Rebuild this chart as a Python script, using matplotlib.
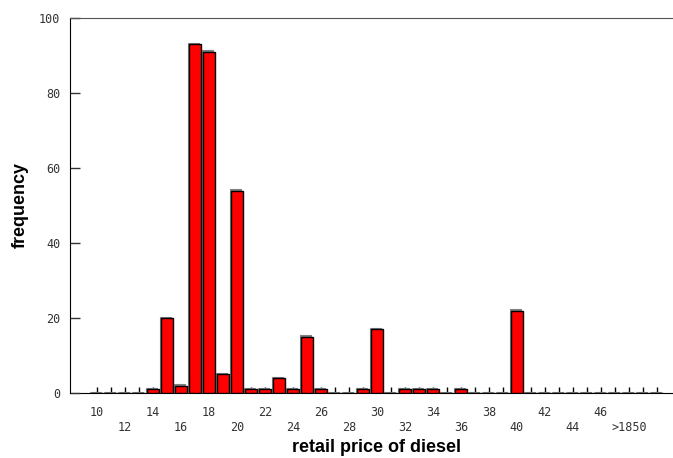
import numpy as np
import matplotlib
matplotlib.use("Agg")
import matplotlib.pyplot as plt

# price bins 10..50, last labelled bin shown as ">1850"
price_bins = list(range(10, 51))
frequency = [0, 0, 0, 0, 1, 20, 2, 93, 91, 5, 54, 1, 1, 4, 1, 15, 1, 0, 0, 1,
             17, 0, 1, 1, 1, 0, 1, 0, 0, 0, 22, 0, 0, 0, 0, 0, 0, 0, 0, 0, 0]
tick_text = ["10", "12", "14", "16", "18", "20", "22", "24", "26", "28", "30",
             "32", "34", "36", "38", "40", "42", "44", "46", ">1850"]

x = np.array(price_bins)
y = np.array(frequency)

fig = plt.figure(figsize=(6.73, 4.58), dpi=100)
ax = fig.add_axes([70 / 673, 1 - 393 / 458, 603 / 673, 375 / 458])

# gray shadow behind each bar, then the red bar
ax.bar(x - 0.09, y + 0.35, width=0.8, color="#808080", edgecolor="#808080",
       linewidth=0.8, zorder=2)
ax.bar(x, y, width=0.8, color="#ff0000", edgecolor="black", linewidth=1.0,
       zorder=3)

ax.set_xlim(10 - 27 / 14, 50 + 16 / 14)
ax.set_ylim(0, 100)

labels = []
for i, p in enumerate(price_bins):
    if i % 2 == 0 and i // 2 < len(tick_text):
        t = tick_text[i // 2]
        labels.append(t if (i // 2) % 2 == 0 else "\n" + t)
    else:
        labels.append("")
ax.set_xticks(x)
ax.set_xticklabels(labels, fontfamily="DejaVu Sans Mono", fontsize=8.5,
                   color="#333333", linespacing=1.25)
ax.tick_params(axis="x", direction="in", length=4, width=1, color="black",
               pad=9)

ax.set_yticks([0, 20, 40, 60, 80, 100])
ax.set_yticklabels(["0", "20", "40", "60", "80", "100"],
                   fontfamily="DejaVu Sans Mono", fontsize=8.5, color="#333333")
ax.tick_params(axis="y", direction="in", length=7.2, width=1, color="#333333",
               pad=7)

ax.spines["right"].set_visible(False)
ax.spines["top"].set_color("#555555")
ax.spines["left"].set_color("black")
ax.spines["bottom"].set_color("black")
ax.spines["bottom"].set_zorder(1)

ax.set_xlabel("retail price of diesel", fontfamily="Liberation Sans",
              fontweight="bold", fontsize=13)
ax.set_ylabel("frequency", fontfamily="Liberation Sans", fontweight="bold",
              fontsize=13)
ax.xaxis.set_label_coords((377 - 70) / 603, (393 - 439) / 375)
ax.yaxis.set_label_coords((29 - 70) / 603, (393 - 205) / 375)

fig.savefig("out.png", dpi=100)
